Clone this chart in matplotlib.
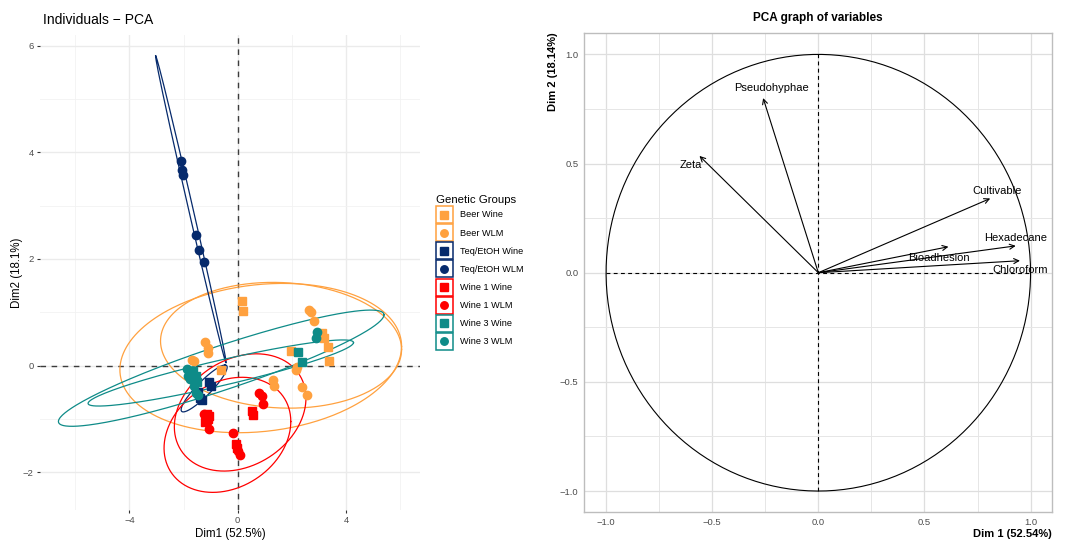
import numpy as np
import matplotlib
matplotlib.use("Agg")
import matplotlib.pyplot as plt
from matplotlib.lines import Line2D
from matplotlib.patches import Rectangle
from matplotlib.legend_handler import HandlerBase
from matplotlib.ticker import MultipleLocator, FuncFormatter

plt.rcParams['font.family'] = ['Liberation Sans', 'DejaVu Sans']

# ---- individuals (left panel) ----
groups = ["Beer Wine", "Beer WLM", "Teq/EtOH Wine", "Teq/EtOH WLM",
          "Wine 1 Wine", "Wine 1 WLM", "Wine 3 Wine", "Wine 3 WLM"]
group_colors = ["#FFA13F", "#FFA13F", "#062A6C", "#062A6C",
                "#FF0000", "#FF0000", "#0E8B88", "#0E8B88"]
group_markers = ["s", "o", "s", "o", "s", "o", "s", "o"]

beer_wine_x = [0.17, 0.18, 1.97, 3.10, 3.20, 3.32, 3.38, -0.62]
beer_wine_y = [1.21, 1.03, 0.28, 0.61, 0.51, 0.35, 0.09, -0.08]
beer_wlm_x = [2.65, 2.70, 2.82, 1.32, 1.33, 2.15, 2.18, 2.39, 2.57, -1.21, -1.11, -1.09, -1.68, -1.63]
beer_wlm_y = [1.04, 1.00, 0.84, -0.27, -0.38, -0.09, -0.02, -0.41, -0.56, 0.45, 0.33, 0.23, 0.11, 0.08]
teq_wine_x = [-1.05, -0.98, -1.48, -1.39, -1.33]
teq_wine_y = [-0.30, -0.38, -0.50, -0.61, -0.65]
teq_wlm_x = [-2.09, -2.07, -2.03, -1.55, -1.42, -1.24]
teq_wlm_y = [3.83, 3.67, 3.58, 2.45, 2.17, 1.95]
wine1_wine_x = [-1.15, -1.05, -1.20, -1.10, 0.54, 0.58, -0.08, -0.03]
wine1_wine_y = [-0.90, -0.95, -1.05, -1.00, -0.86, -0.92, -1.48, -1.55]
wine1_wlm_x = [0.80, 0.89, 0.95, -0.18, 0.02, 0.08, -1.25, -1.15, -1.05]
wine1_wlm_y = [-0.51, -0.58, -0.72, -1.27, -1.61, -1.68, -0.90, -1.05, -1.19]
wine3_wine_x = [2.24, 2.36, -1.65, -1.55, -1.50]
wine3_wine_y = [0.26, 0.07, -0.10, -0.20, -0.30]
wine3_wlm_x = [2.92, 2.90, -1.88, -1.85, -1.75, -1.62, -1.55, -1.45]
wine3_wlm_y = [0.62, 0.52, -0.06, -0.20, -0.25, -0.38, -0.52, -0.55]

points_x = [beer_wine_x, beer_wlm_x, teq_wine_x, teq_wlm_x,
            wine1_wine_x, wine1_wlm_x, wine3_wine_x, wine3_wlm_x]
points_y = [beer_wine_y, beer_wlm_y, teq_wine_y, teq_wlm_y,
            wine1_wine_y, wine1_wlm_y, wine3_wine_y, wine3_wlm_y]

# concentration ellipses: centre and two conjugate semi-diameters (u, v)
ell_cx = [1.60, 0.85, -1.24, -1.73, 0.09, -0.38, -0.625, -0.61]
ell_cy = [0.38, 0.14, -0.43, 2.93, -0.88, -1.30, -0.14, -0.05]
ell_ux = [4.45, 5.20, 0.77, -1.30, 2.43, 2.34, 4.90, 6.01]
ell_uy = [-0.08, 0.22, 0.44, 2.88, 0.27, 0.25, 0.57, 1.00]
ell_vx = [0.0, 0.0, 0.36, 0.085, 0.0, 0.0, 0.0, 0.0]
ell_vy = [1.177, 1.383, 0.0, 0.0, 1.066, 1.05, 0.244, 0.434]

# ---- variables (right panel) ----
var_names = ["Pseudohyphae", "Zeta", "Cultivable", "Hexadecane", "Bioadhesion", "Chloroform"]
var_dim1 = [-0.26, -0.56, 0.81, 0.93, 0.613, 0.95]
var_dim2 = [0.80, 0.535, 0.34, 0.123, 0.119, 0.055]
label_dx = [0.04, -0.04, 0.032, 0.0, -0.047, 0.0]
label_dy = [0.047, -0.042, 0.036, 0.037, -0.05, -0.043]


class BoxedKey(HandlerBase):
    def create_artists(self, legend, orig_handle, xdescent, ydescent,
                       width, height, fontsize, trans):
        col = orig_handle.get_color()
        box = Rectangle((-xdescent, -ydescent), width, height, facecolor="white",
                        edgecolor=col, lw=1.1, transform=trans)
        mk = Line2D([width / 2 - xdescent], [height / 2 - ydescent],
                    marker=orig_handle.get_marker(), color=col, ls="",
                    markersize=orig_handle.get_markersize(), transform=trans)
        return [box, mk]


def minus_fmt(dec):
    return FuncFormatter(lambda v, p: f"{v:.{dec}f}".replace("-", "\u2212"))


fig = plt.figure(figsize=(10.65, 5.41), dpi=100)

# ---------------- left: individuals ----------------
ax = fig.add_axes([40 / 1065, 1 - 510 / 541, 380 / 1065, 475 / 541])
ax.set_xlim(-7.30, 6.73)
ax.set_ylim(-2.71, 6.20)
ax.xaxis.set_major_locator(MultipleLocator(4))
ax.xaxis.set_minor_locator(MultipleLocator(2))
ax.yaxis.set_major_locator(MultipleLocator(2))
ax.yaxis.set_minor_locator(MultipleLocator(1))
ax.grid(which="major", color="#EBEBEB", lw=1.0)
ax.grid(which="minor", color="#F2F2F2", lw=0.6)
ax.set_axisbelow(True)
for s in ax.spines.values():
    s.set_visible(False)
ax.tick_params(which="major", length=2.5, color="#333333", labelsize=6.8,
               labelcolor="#4D4D4D", pad=2)
ax.tick_params(which="minor", length=0)
ax.xaxis.set_major_formatter(minus_fmt(0))
ax.yaxis.set_major_formatter(minus_fmt(0))

ax.axhline(0, color="#3C3C3C", lw=1.0, ls=(0, (4, 4)), zorder=1)
ax.axvline(0, color="#3C3C3C", lw=1.0, ls=(0, (4, 4)), zorder=1)

t = np.linspace(0, 2 * np.pi, 300)
for i in range(len(groups)):
    ex = ell_cx[i] + ell_ux[i] * np.cos(t) + ell_vx[i] * np.sin(t)
    ey = ell_cy[i] + ell_uy[i] * np.cos(t) + ell_vy[i] * np.sin(t)
    ax.plot(ex, ey, color=group_colors[i], lw=0.9, zorder=2)

for i in range(len(groups)):
    ms = 5.6 if group_markers[i] == "s" else 6.0
    ax.plot(points_x[i], points_y[i], ls="", marker=group_markers[i],
            color=group_colors[i], markersize=ms, zorder=3)

ax.set_xlabel("Dim1 (52.5%)", fontsize=8.3, labelpad=2)
ax.set_ylabel("Dim2 (18.1%)", fontsize=8.3, labelpad=0)
fig.text(43 / 1065, 1 - 20.5 / 541, "Individuals \u2212 PCA", fontsize=10, va="center", ha="left")

handles = [Line2D([], [], ls="", marker=group_markers[i], color=group_colors[i],
                  markersize=5.4) for i in range(len(groups))]
fig.legend(handles, groups, loc="upper left", bbox_to_anchor=(436 / 1065, 1 - 195 / 541),
           frameon=False, fontsize=6.6, title="Genetic Groups", title_fontsize=8.2,
           alignment="left", handlelength=1.85, handleheight=2.48, labelspacing=0.12,
           handletextpad=0.75, borderpad=0, borderaxespad=0,
           handler_map={Line2D: BoxedKey()})

# ---------------- right: variables ----------------
ax2 = fig.add_axes([584 / 1065, 1 - 512 / 541, 468 / 1065, 479 / 541])
ax2.set_xlim(-1.104, 1.101)
ax2.set_ylim(-1.096, 1.098)
ax2.xaxis.set_major_locator(MultipleLocator(0.5))
ax2.xaxis.set_minor_locator(MultipleLocator(0.25))
ax2.yaxis.set_major_locator(MultipleLocator(0.5))
ax2.yaxis.set_minor_locator(MultipleLocator(0.25))
ax2.grid(which="major", color="#DEDEDE", lw=0.9)
ax2.grid(which="minor", color="#E6E6E6", lw=0.7)
ax2.set_axisbelow(True)
for s in ax2.spines.values():
    s.set_color("#BDBDBD")
    s.set_linewidth(1.0)
ax2.tick_params(which="both", length=0, labelsize=6.8, labelcolor="#4D4D4D", pad=4)
ax2.xaxis.set_major_formatter(minus_fmt(1))
ax2.yaxis.set_major_formatter(minus_fmt(1))

ax2.plot(np.cos(t), np.sin(t), color="black", lw=0.8)
ax2.plot([-1, 1], [0, 0], color="black", lw=0.8, ls=(0, (3.5, 3)))
ax2.plot([0, 0], [-1, 1], color="black", lw=0.8, ls=(0, (3.5, 3)))

for i, name in enumerate(var_names):
    ax2.annotate("", xy=(var_dim1[i], var_dim2[i]), xytext=(0, 0),
                 arrowprops=dict(arrowstyle="->", lw=0.8, color="black",
                                 mutation_scale=9, shrinkA=0, shrinkB=0))
    ax2.text(var_dim1[i] + label_dx[i], var_dim2[i] + label_dy[i], name,
             fontsize=8, ha="center", va="center")

ax2.set_title("PCA graph of variables", fontsize=8.5, fontweight="bold", pad=9)
fig.text(1052 / 1065, 1 - 534 / 541, "Dim 1 (52.54%)", fontsize=8, fontweight="bold",
         ha="right", va="center")
fig.text(553 / 1065, 1 - 32 / 541, "Dim 2 (18.14%)", fontsize=8, fontweight="bold",
         ha="center", va="top", rotation=90)

fig.savefig("out.png", dpi=100)
